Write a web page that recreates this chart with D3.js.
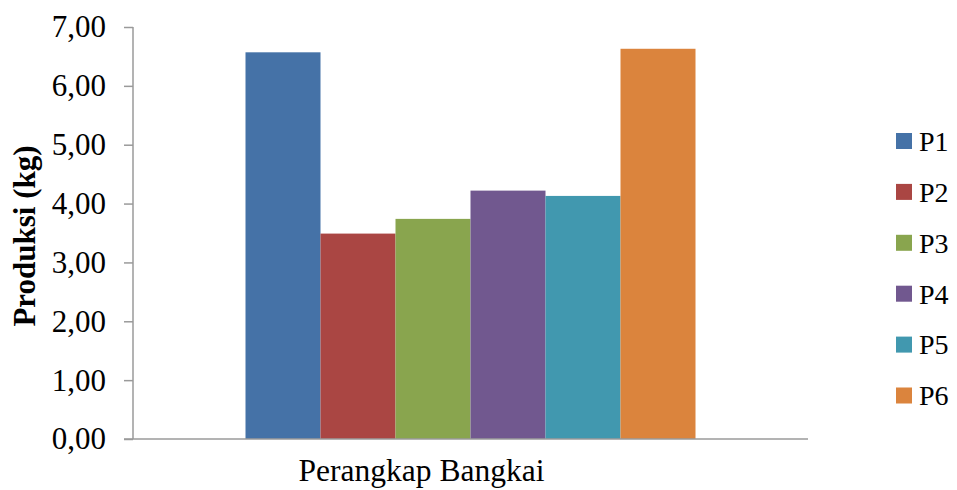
<!DOCTYPE html>
<html>
<head>
<meta charset="utf-8">
<script src="https://cdn.jsdelivr.net/npm/d3@7"></script>
<style>
  html, body { margin: 0; padding: 0; background: #fff; }
  svg { display: block; }
  text { font-family: "Liberation Serif", "Times New Roman", serif; fill: #000; }
</style>
</head>
<body>
<svg id="chart" width="957" height="490"></svg>
<script>
const categories = ["Perangkap Bangkai"];
const seriesNames = ["P1", "P2", "P3", "P4", "P5", "P6"];
const seriesValues = [6.57, 3.49, 3.74, 4.22, 4.13, 6.63];
const seriesColors = ["#4572A7", "#AA4643", "#89A54E", "#71588F", "#4198AF", "#DB843D"];
const yTicks = [0, 1, 2, 3, 4, 5, 6, 7];
const yTitle = "Produksi (kg)";

const svg = d3.select("#chart");
const margin = { left: 133, right: 149, top: 27, bottom: 51 };
const W = 957, H = 490;
const plotW = W - margin.left - margin.right;
const plotH = H - margin.top - margin.bottom;
const serif = "'Liberation Serif', 'Times New Roman', serif";

const g = svg.append("g").attr("transform", `translate(${margin.left},${margin.top})`);

const x0 = d3.scaleBand().domain(categories).range([0, plotW]).paddingInner(0).paddingOuter(0.25);
const x1 = d3.scaleBand().domain(seriesNames).range([0, x0.bandwidth()]).padding(0);
const y = d3.scaleLinear().domain([0, 7]).range([plotH, 0]);

const fmt = d => d.toFixed(2).replace(".", ",");

// bars
const data = seriesNames.map((n, i) => ({ cat: categories[0], name: n, value: seriesValues[i], color: seriesColors[i] }));
g.selectAll("rect.bar").data(data).enter().append("rect")
  .attr("class", "bar")
  .attr("x", d => x0(d.cat) + x1(d.name))
  .attr("width", x1.bandwidth())
  .attr("y", d => y(d.value))
  .attr("height", d => plotH - y(d.value))
  .attr("fill", d => d.color);

// y axis
const yAxis = g.append("g").attr("font-family", serif).call(
  d3.axisLeft(y).tickValues(yTicks).tickFormat(fmt).tickSize(9).tickPadding(18)
);
yAxis.attr("font-family", serif);
yAxis.selectAll("path.domain").attr("d", `M0,0V${plotH}`).attr("stroke", "#9a9a9a").attr("stroke-width", 1.5);
yAxis.selectAll(".tick line").attr("stroke", "#9a9a9a").attr("stroke-width", 1.5);
yAxis.selectAll(".tick text").style("font-size", "31px").style("font-family", serif).attr("fill", "#000");

// x axis
const xAxis = g.append("g").attr("transform", `translate(0,${plotH})`).call(
  d3.axisBottom(x0).tickSize(0).tickPadding(20)
);
xAxis.attr("font-family", serif);
xAxis.selectAll("path.domain").attr("d", `M-9,0H${plotW}`).attr("stroke", "#9a9a9a").attr("stroke-width", 1.5);
xAxis.selectAll(".tick text").attr("dx", -49).style("font-size", "31.5px").style("font-family", serif).attr("fill", "#000");

// y title
svg.append("text")
  .attr("transform", `translate(35,${margin.top + plotH / 2 + 3}) rotate(-90)`)
  .attr("text-anchor", "middle")
  .style("font-family", serif)
  .style("font-size", "31px")
  .style("font-weight", "bold")
  .text(yTitle);

// legend
const legend = svg.append("g").attr("transform", "translate(896,133)");
const items = legend.selectAll("g").data(data).enter().append("g")
  .attr("transform", (d, i) => `translate(0,${i * 50.9})`);
items.append("rect").attr("width", 16).attr("height", 16).attr("fill", d => d.color);
items.append("text").attr("x", 23).attr("y", 8).attr("dy", "0.35em")
  .style("font-family", serif)
  .style("font-size", "28px").text(d => d.name);
</script>
</body>
</html>
